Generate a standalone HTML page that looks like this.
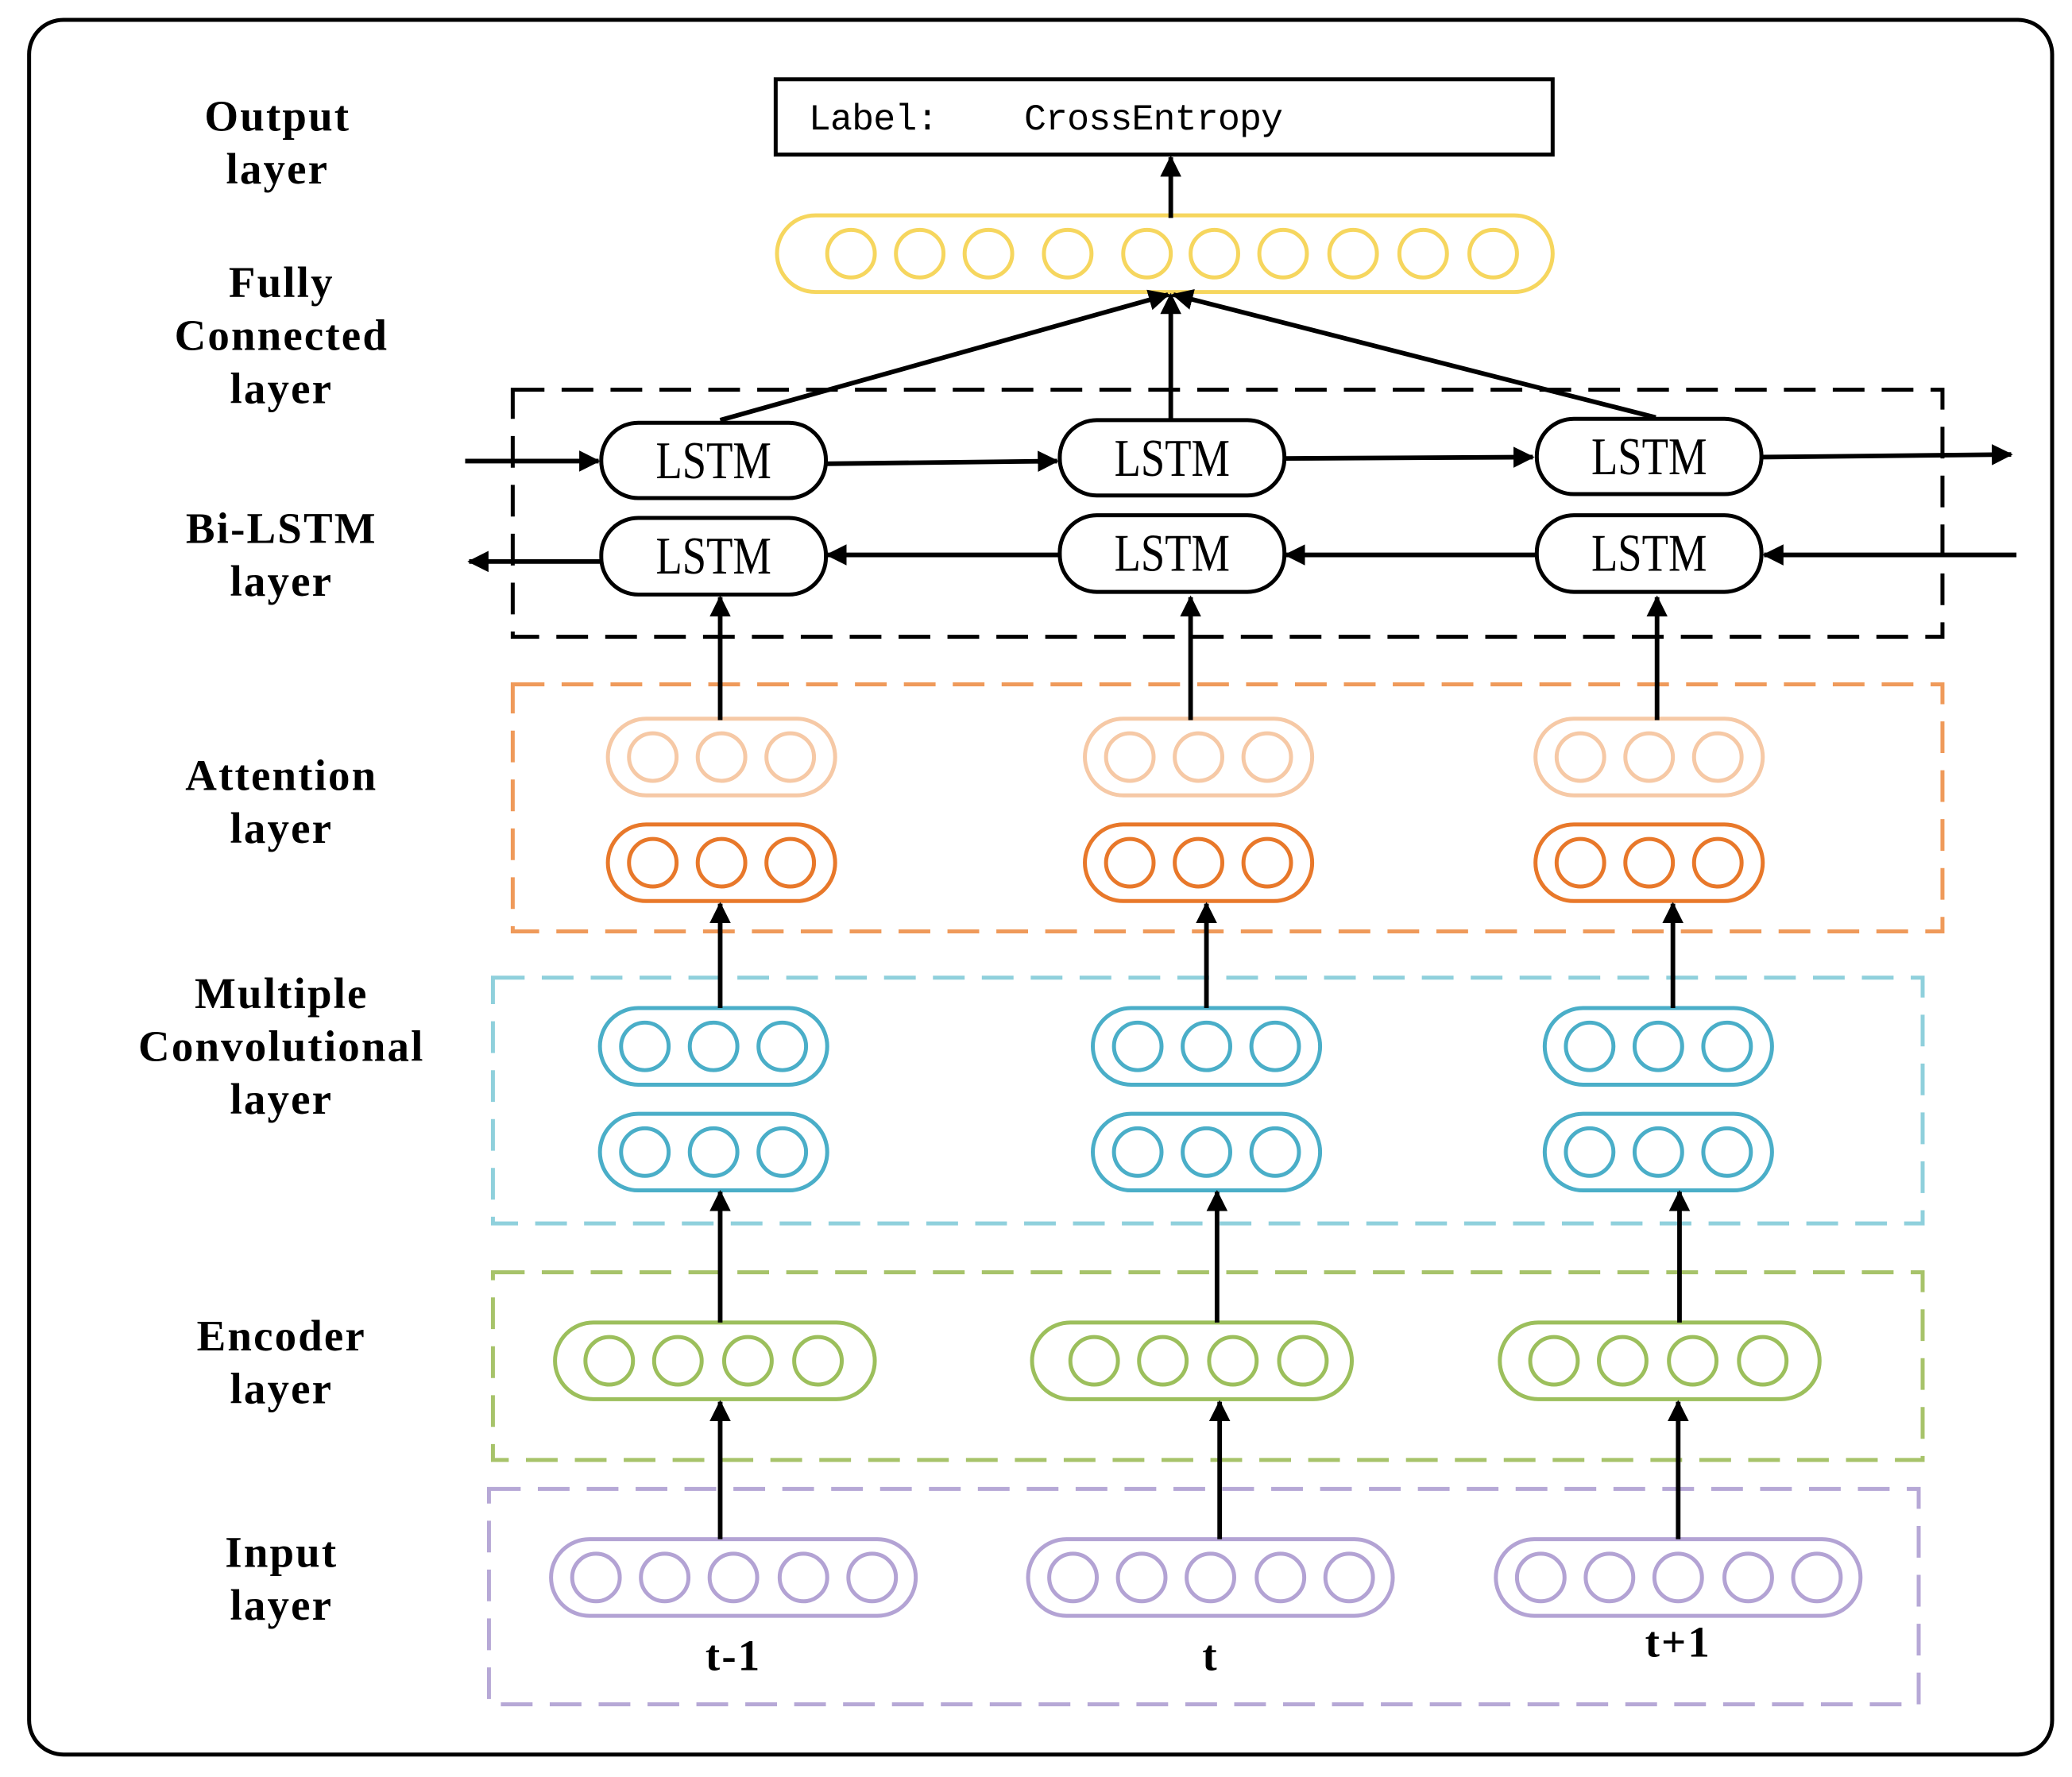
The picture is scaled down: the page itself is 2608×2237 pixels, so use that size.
<!DOCTYPE html>
<html><head><meta charset="utf-8"><style>html,body{margin:0;padding:0;background:#fff}svg{display:block}</style></head>
<body>
<svg width="2608" height="2237" viewBox="0 0 1568 1345" xmlns="http://www.w3.org/2000/svg">
<defs>
<marker id="ah" viewBox="0 0 12 12" refX="11" refY="6" markerWidth="16" markerHeight="16" orient="auto" markerUnits="userSpaceOnUse"><path d="M0,0 L12,6 L0,12 Z" fill="#000"/></marker>
</defs>
<rect x="22" y="15" width="1531" height="1313" rx="26" fill="#fff" stroke="#000" stroke-width="3"/>
<g font-family="Liberation Serif, serif" font-weight="bold" font-size="33" letter-spacing="1.3" text-anchor="middle" fill="#000">
<text x="210" y="99">Output</text><text x="210" y="139">layer</text>
<text x="213" y="225">Fully</text><text x="213" y="265">Connected</text><text x="213" y="305">layer</text>
<text x="213" y="411">Bi-LSTM</text><text x="213" y="451">layer</text>
<text x="213" y="598">Attention</text><text x="213" y="638">layer</text>
<text x="213" y="763">Multiple</text><text x="213" y="803">Convolutional</text><text x="213" y="843">layer</text>
<text x="213" y="1022">Encoder</text><text x="213" y="1062">layer</text>
<text x="213" y="1186">Input</text><text x="213" y="1226">layer</text>
<text x="555" y="1264">t-1</text><text x="916" y="1264">t</text><text x="1270" y="1254">t+1</text>
</g>
<rect x="587" y="60" width="588" height="57" fill="#fff" stroke="#000" stroke-width="3"/>
<text x="612" y="98" font-family="Liberation Mono, monospace" font-size="28" letter-spacing="-0.5" xml:space="preserve">Label:    CrossEntropy</text>
<g fill="none" stroke-width="3" stroke-dasharray="24,13">
<rect x="388" y="295" width="1082" height="187" stroke="#000"/>
<rect x="388" y="518" width="1082" height="187" stroke="#ef9a5a"/>
<rect x="373" y="740" width="1082" height="186" stroke="#8fd0dc"/>
<rect x="373" y="963" width="1082" height="142" stroke="#a7c36a"/>
<rect x="370" y="1127" width="1082" height="163" stroke="#b6a8d6"/>
</g>
<g fill="none" stroke="#f6d65e" stroke-width="3">
<rect x="588" y="163" width="587" height="58" rx="29"/>
<circle cx="644" cy="192" r="18"/><circle cx="696" cy="192" r="18"/><circle cx="748" cy="192" r="18"/><circle cx="808" cy="192" r="18"/><circle cx="868" cy="192" r="18"/><circle cx="919" cy="192" r="18"/><circle cx="971" cy="192" r="18"/><circle cx="1024" cy="192" r="18"/><circle cx="1077" cy="192" r="18"/><circle cx="1130" cy="192" r="18"/>
</g>
<g fill="none" stroke-width="3">
<g stroke="#f6c9a6">
<rect x="460" y="544" width="172" height="58" rx="29"/><circle cx="494" cy="573" r="18"/><circle cx="546" cy="573" r="18"/><circle cx="598" cy="573" r="18"/>
<rect x="821" y="544" width="172" height="58" rx="29"/><circle cx="855" cy="573" r="18"/><circle cx="907" cy="573" r="18"/><circle cx="959" cy="573" r="18"/>
<rect x="1162" y="544" width="172" height="58" rx="29"/><circle cx="1196" cy="573" r="18"/><circle cx="1248" cy="573" r="18"/><circle cx="1300" cy="573" r="18"/>
</g>
<g stroke="#e8782a">
<rect x="460" y="624" width="172" height="58" rx="29"/><circle cx="494" cy="653" r="18"/><circle cx="546" cy="653" r="18"/><circle cx="598" cy="653" r="18"/>
<rect x="821" y="624" width="172" height="58" rx="29"/><circle cx="855" cy="653" r="18"/><circle cx="907" cy="653" r="18"/><circle cx="959" cy="653" r="18"/>
<rect x="1162" y="624" width="172" height="58" rx="29"/><circle cx="1196" cy="653" r="18"/><circle cx="1248" cy="653" r="18"/><circle cx="1300" cy="653" r="18"/>
</g>
<g stroke="#4aaec8">
<rect x="454" y="763" width="172" height="58" rx="29"/><circle cx="488" cy="792" r="18"/><circle cx="540" cy="792" r="18"/><circle cx="592" cy="792" r="18"/>
<rect x="827" y="763" width="172" height="58" rx="29"/><circle cx="861" cy="792" r="18"/><circle cx="913" cy="792" r="18"/><circle cx="965" cy="792" r="18"/>
<rect x="1169" y="763" width="172" height="58" rx="29"/><circle cx="1203" cy="792" r="18"/><circle cx="1255" cy="792" r="18"/><circle cx="1307" cy="792" r="18"/>
<rect x="454" y="843" width="172" height="58" rx="29"/><circle cx="488" cy="872" r="18"/><circle cx="540" cy="872" r="18"/><circle cx="592" cy="872" r="18"/>
<rect x="827" y="843" width="172" height="58" rx="29"/><circle cx="861" cy="872" r="18"/><circle cx="913" cy="872" r="18"/><circle cx="965" cy="872" r="18"/>
<rect x="1169" y="843" width="172" height="58" rx="29"/><circle cx="1203" cy="872" r="18"/><circle cx="1255" cy="872" r="18"/><circle cx="1307" cy="872" r="18"/>
</g>
<g stroke="#9cbf5c">
<rect x="420" y="1001" width="242" height="58" rx="29"/><circle cx="461" cy="1030" r="18"/><circle cx="513" cy="1030" r="18"/><circle cx="566" cy="1030" r="18"/><circle cx="619" cy="1030" r="18"/>
<rect x="781" y="1001" width="242" height="58" rx="29"/><circle cx="828" cy="1030" r="18"/><circle cx="880" cy="1030" r="18"/><circle cx="933" cy="1030" r="18"/><circle cx="986" cy="1030" r="18"/>
<rect x="1135" y="1001" width="242" height="58" rx="29"/><circle cx="1176" cy="1030" r="18"/><circle cx="1228" cy="1030" r="18"/><circle cx="1281" cy="1030" r="18"/><circle cx="1334" cy="1030" r="18"/>
</g>
<g stroke="#b3a3d4">
<rect x="417" y="1165" width="276" height="58" rx="29"/><circle cx="451" cy="1194" r="18"/><circle cx="503" cy="1194" r="18"/><circle cx="555" cy="1194" r="18"/><circle cx="608" cy="1194" r="18"/><circle cx="660" cy="1194" r="18"/>
<rect x="778" y="1165" width="276" height="58" rx="29"/><circle cx="812" cy="1194" r="18"/><circle cx="864" cy="1194" r="18"/><circle cx="916" cy="1194" r="18"/><circle cx="969" cy="1194" r="18"/><circle cx="1021" cy="1194" r="18"/>
<rect x="1132" y="1165" width="276" height="58" rx="29"/><circle cx="1166" cy="1194" r="18"/><circle cx="1218" cy="1194" r="18"/><circle cx="1270" cy="1194" r="18"/><circle cx="1323" cy="1194" r="18"/><circle cx="1375" cy="1194" r="18"/>
</g>
</g>
<g stroke="#000" stroke-width="3.5" fill="none" marker-end="url(#ah)">
<line x1="886" y1="165" x2="886" y2="119"/>
<line x1="545" y1="318" x2="884" y2="223"/>
<line x1="886" y1="318" x2="886" y2="223"/>
<line x1="1253" y1="316" x2="888" y2="223"/>
<line x1="352" y1="349" x2="453" y2="349"/>
<line x1="625" y1="351" x2="800" y2="349"/>
<line x1="972" y1="347" x2="1160" y2="346"/>
<line x1="1333" y1="346" x2="1522" y2="344"/>
<line x1="1526" y1="420" x2="1335" y2="420"/>
<line x1="1162" y1="420" x2="973" y2="420"/>
<line x1="802" y1="420" x2="626" y2="420"/>
<line x1="455" y1="425" x2="355" y2="425"/>
<line x1="545" y1="545" x2="545" y2="452"/>
<line x1="901" y1="545" x2="901" y2="452"/>
<line x1="1254" y1="545" x2="1254" y2="452"/>
<line x1="545" y1="763" x2="545" y2="684"/>
<line x1="913" y1="763" x2="913" y2="684"/>
<line x1="1266" y1="763" x2="1266" y2="684"/>
<line x1="545" y1="1001" x2="545" y2="902"/>
<line x1="921" y1="1001" x2="921" y2="902"/>
<line x1="1271" y1="1001" x2="1271" y2="902"/>
<line x1="545" y1="1165" x2="545" y2="1061"/>
<line x1="923" y1="1165" x2="923" y2="1061"/>
<line x1="1270" y1="1165" x2="1270" y2="1061"/>
</g>
<g fill="#fff" stroke="#000" stroke-width="3">
<rect x="455" y="320" width="170" height="57" rx="28"/><rect x="802" y="318" width="170" height="57" rx="28"/><rect x="1163" y="317" width="170" height="57" rx="28"/>
<rect x="455" y="392" width="170" height="58" rx="28"/><rect x="802" y="390" width="170" height="58" rx="28"/><rect x="1163" y="390" width="170" height="58" rx="28"/>
</g>
<g font-family="Liberation Serif, serif" font-size="40" text-anchor="middle">
<text transform="translate(540,362) scale(0.82,1)">LSTM</text><text transform="translate(887,360) scale(0.82,1)">LSTM</text><text transform="translate(1248,359) scale(0.82,1)">LSTM</text>
<text transform="translate(540,434) scale(0.82,1)">LSTM</text><text transform="translate(887,432) scale(0.82,1)">LSTM</text><text transform="translate(1248,432) scale(0.82,1)">LSTM</text>
</g>
</svg>
</body></html>
